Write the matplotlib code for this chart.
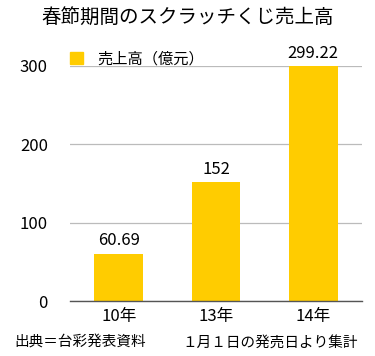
import matplotlib
matplotlib.use("Agg")
import matplotlib.pyplot as plt
from matplotlib.patches import Patch

plt.rcParams["font.family"] = ["Noto Sans CJK JP", "DejaVu Sans"]

# data
years = ["10年", "13年", "14年"]
sales = [60.69, 152, 299.22]
value_labels = ["60.69", "152", "299.22"]
y_ticks = [0, 100, 200, 300]

BAR_COLOR = "#FFCC00"

fig = plt.figure(figsize=(3.75, 3.56), dpi=100)
ax = fig.add_axes([0.187, 0.154, 0.778, 0.661])

x = range(len(years))
ax.bar(x, sales, width=0.5, color=BAR_COLOR, zorder=2)
for xi, v, lab in zip(x, sales, value_labels):
    ax.annotate(lab, (xi, v), xytext=(0, 3), textcoords="offset points",
                ha="center", va="bottom", fontsize=12, clip_on=False)

ax.set_xlim(-0.5, len(years) - 0.5)
ax.set_ylim(0, 300)
ax.set_yticks(y_ticks)
ax.set_xticks(list(x))
ax.set_xticklabels(years)
ax.tick_params(axis="both", length=0, labelsize=12)
ax.tick_params(axis="y", pad=16)
ax.tick_params(axis="x", pad=5)
ax.yaxis.grid(True, color="#bbbbbb", linewidth=0.9, zorder=0)
ax.set_axisbelow(True)
for s in ["top", "right", "left"]:
    ax.spines[s].set_visible(False)
ax.spines["bottom"].set_color("#555555")
ax.spines["bottom"].set_linewidth(1.0)

ax.legend(handles=[Patch(color=BAR_COLOR, label="売上高（億元）")],
          loc="lower left", bbox_to_anchor=(0.0, 0.995), frameon=False,
          fontsize=11, handlelength=0.85, handleheight=0.85, handletextpad=0.9,
          borderaxespad=0, borderpad=0)

fig.text(0.5, 0.952, "春節期間のスクラッチくじ売上高", ha="center", va="center",
         fontsize=14)
fig.text(0.037, 0.038, "出典＝台彩発表資料", ha="left", va="center", fontsize=10.5)
fig.text(0.485, 0.038, "１月１日の発売日より集計", ha="left", va="center", fontsize=10.5)

fig.savefig("out.png", dpi=100)
